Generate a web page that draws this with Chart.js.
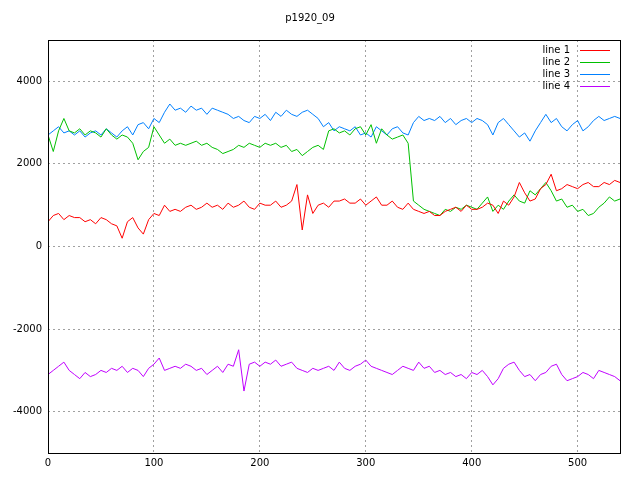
<!DOCTYPE html>
<html>
<head>
<meta charset="utf-8">
<script src="https://cdn.jsdelivr.net/npm/chart.js@4"></script>
<style>body{margin:0;background:#fff}</style>
</head>
<body>
<canvas id="c" width="640" height="480"></canvas>
<script>
// x positions, one sample every 5 units
const xs = [];
for (let i = 0; i <= 540; i += 5) xs.push(i);

const xTicks = [0, 100, 200, 300, 400, 500];
const yTicks = [-4000, -2000, 0, 2000, 4000];

const line1 = [600,750,800,650,750,700,700,600,650,550,700,650,550,500,200,600,700,450,300,650,800,750,1000,850,900,850,950,1000,900,950,1050,950,1000,900,1050,950,1000,1100,950,900,1050,1000,1000,1100,950,1000,1100,1500,400,1250,800,1000,1050,950,1100,1100,1150,1050,1050,1150,1000,1100,1200,1000,1000,1100,950,900,1050,900,850,800,850,750,750,850,900,950,850,1000,900,900,950,1050,1000,800,1100,1000,1200,1550,1300,1100,1150,1400,1500,1750,1350,1400,1500,1450,1400,1500,1550,1450,1450,1550,1500,1600,1550];
const line2 = [2700,2300,2800,3100,2800,2750,2850,2700,2800,2750,2650,2850,2700,2600,2700,2650,2500,2100,2300,2400,2900,2700,2500,2600,2450,2500,2450,2500,2550,2450,2500,2400,2350,2250,2300,2350,2450,2400,2500,2450,2400,2500,2450,2500,2400,2450,2300,2350,2200,2300,2400,2450,2350,2800,2850,2750,2800,2700,2850,2900,2700,2950,2500,2850,2700,2600,2650,2700,2500,1100,1000,900,850,800,750,900,850,950,900,1000,950,900,1050,1200,850,1000,900,1100,1250,1100,1050,1350,1250,1400,1550,1350,1100,1150,950,1000,850,900,750,800,950,1050,1200,1100,1150];
const line3 = [2700,2800,2900,2750,2800,2700,2800,2650,2750,2800,2700,2850,2750,2650,2800,2900,2700,2950,3000,2850,3100,3000,3250,3450,3300,3350,3250,3400,3300,3350,3200,3350,3300,3250,3200,3100,3150,3050,3000,3150,3100,3200,3050,3250,3150,3300,3200,3150,3250,3300,3200,3100,2900,3000,2800,2900,2850,2800,2900,2700,2750,2650,2900,2800,2700,2850,2900,2750,2700,3000,3150,3050,3100,3050,3150,3000,3100,2950,3050,3100,3000,3100,3050,2950,2700,3000,3100,2950,2800,2650,2750,2550,2800,3000,3200,3000,3100,2900,2800,2950,3050,2800,2900,3050,3150,3050,3100,3150,3100];
const line4 = [-3100,-3000,-2900,-2800,-3000,-3100,-3200,-3050,-3150,-3100,-3000,-3050,-2950,-3000,-2900,-3050,-2950,-3000,-3150,-2950,-2850,-2700,-3000,-2950,-2900,-2950,-2850,-2900,-3000,-2950,-3100,-3000,-2900,-3050,-2850,-2900,-2500,-3500,-2850,-2800,-2900,-2800,-2850,-2750,-2900,-2850,-2800,-2950,-3000,-3050,-2950,-3000,-2950,-2900,-3000,-2800,-2950,-3000,-2900,-2850,-2750,-2900,-2950,-3000,-3050,-3100,-3000,-2900,-2950,-3000,-2800,-2950,-2900,-3050,-3000,-3100,-3050,-3150,-3100,-3200,-3050,-3100,-3000,-3150,-3350,-3200,-2950,-2850,-2800,-3000,-3150,-3100,-3250,-3100,-3050,-2900,-2850,-3100,-3250,-3200,-3150,-3050,-3100,-3200,-3000,-3050,-3100,-3150,-3250];

const names = ['line 1', 'line 2', 'line 3', 'line 4'];
const colors = ['#ff0000', '#00c000', '#0080ff', '#c000ff'];
const series = [line1, line2, line3, line4];

const FONT = '10px "DejaVu Sans"';

// gnuplot-style legend: text right-aligned, sample line to the right
const legendPlugin = {
    id: 'gpLegend',
    afterDraw(chart) {
        const ctx = chart.ctx;
        const a = chart.chartArea;
        ctx.save();
        ctx.font = FONT;
        ctx.textAlign = 'right';
        ctx.textBaseline = 'middle';
        chart.data.datasets.forEach((ds, i) => {
            const y = a.top + 10 + i * 12;
            ctx.fillStyle = '#000';
            ctx.fillText(ds.label, a.right - 50, y);
            ctx.strokeStyle = ds.borderColor;
            ctx.lineWidth = 1;
            ctx.beginPath();
            ctx.moveTo(a.right - 40, y + 0.5);
            ctx.lineTo(a.right - 10, y + 0.5);
            ctx.stroke();
        });
        ctx.strokeStyle = '#000';
        ctx.strokeRect(a.left + 0.5, a.top + 0.5, a.right - a.left, a.bottom - a.top);
        ctx.restore();
    }
};

const tickFont = {family: 'DejaVu Sans', size: 10};

new Chart(document.getElementById('c'), {
    type: 'line',
    data: {
        datasets: series.map((s, i) => ({
            label: names[i],
            data: s.map((v, j) => ({x: xs[j], y: v})),
            borderColor: colors[i],
            borderWidth: 1,
            pointRadius: 0,
            tension: 0
        }))
    },
    options: {
        responsive: false,
        devicePixelRatio: 1,
        animation: false,
        layout: {padding: {top: 8, right: 20, left: 0, bottom: 0}},
        plugins: {
            legend: {display: false},
            tooltip: {enabled: false},
            title: {display: true, text: 'p1920_09', color: '#000', font: {family: 'DejaVu Sans', size: 10, weight: 'normal'}, padding: {top: 4, bottom: 16}}
        },
        scales: {
            x: {
                type: 'linear', min: 0, max: 540,
                afterFit(s) { s.height = 27; },
                afterBuildTicks(s) { s.ticks = xTicks.map(v => ({value: v})); },
                ticks: {color: '#000', font: tickFont, maxRotation: 0, padding: 4, callback: v => String(v)},
                grid: {color: '#a0a0a0', drawTicks: false},
                border: {display: false, dash: [2, 3]}
            },
            y: {
                min: -5000, max: 5000,
                afterFit(s) { s.width = 48; },
                afterBuildTicks(s) { s.ticks = yTicks.map(v => ({value: v})); },
                ticks: {color: '#000', font: tickFont, padding: 6, callback: v => String(v)},
                grid: {color: '#a0a0a0', drawTicks: false},
                border: {display: false, dash: [2, 3]}
            }
        }
    },
    plugins: [legendPlugin]
});
</script>
</body>
</html>
